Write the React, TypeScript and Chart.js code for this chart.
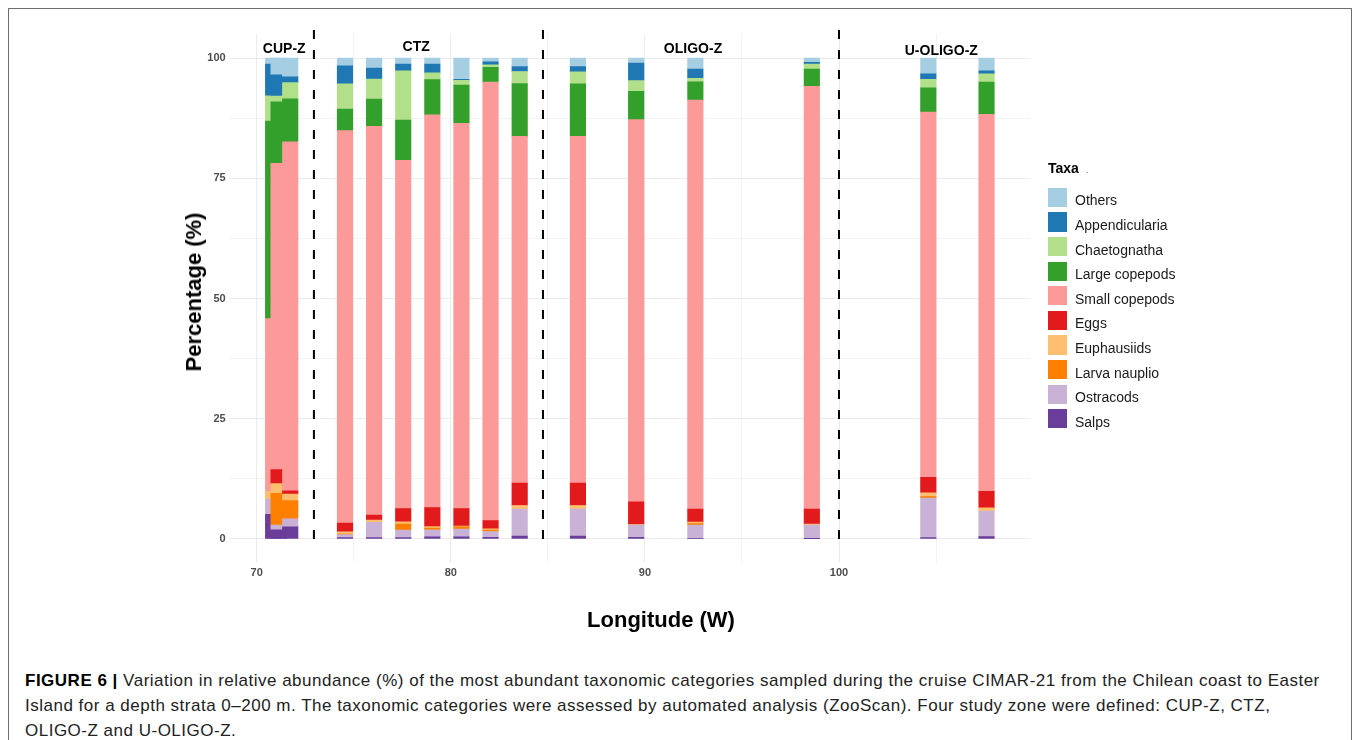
import React, { useEffect, useRef } from 'react';
import { Chart, registerables } from 'chart.js';

Chart.register(...registerables);

// ---------- data ----------
const taxa = [
  'Salps',
  'Ostracods',
  'Larva nauplio',
  'Euphausiids',
  'Eggs',
  'Small copepods',
  'Large copepods',
  'Chaetognatha',
  'Appendicularia',
  'Others',
];
const taxaColors = [
  '#6A3D9A',
  '#CAB2D6',
  '#FF7F00',
  '#FDBF6F',
  '#E31A1C',
  '#FB9A99',
  '#33A02C',
  '#B2DF8A',
  '#1F78B4',
  '#A6CEE3',
];

// station longitudes (W)
const longitudes = [70.85, 71.13, 71.73, 74.55, 76.05, 77.55, 79.05, 80.55, 82.05, 83.55, 86.55, 89.55, 92.6, 98.6, 104.6, 107.6];

// relative abundance (%) per station
const salps = [5.1, 1.9, 2.5, 0.3, 0.3, 0.3, 0.45, 0.45, 0.35, 0.6, 0.6, 0.35, 0.1, 0.05, 0.3, 0.5];
const ostracods = [3.2, 1.0, 1.7, 0.6, 3.15, 1.55, 1.45, 1.6, 1.2, 5.6, 5.6, 2.55, 2.8, 2.85, 8.2, 5.3];
const larvaNauplio = [0, 6.6, 3.8, 0.1, 0, 1.25, 0.35, 0.45, 0.3, 0, 0, 0, 0.3, 0, 0.3, 0];
const euphausiids = [1.6, 2.0, 1.35, 0.5, 0.5, 0.45, 0.3, 0.2, 0.25, 0.75, 0.75, 0.1, 0.3, 0.2, 0.8, 0.65];
const eggs = [0, 2.9, 0.65, 1.8, 1.0, 2.75, 3.95, 3.6, 1.7, 4.65, 4.65, 4.7, 2.7, 3.1, 3.2, 3.45];
const smallCopepods = [35.9, 63.7, 72.6, 81.6, 80.85, 72.45, 81.7, 80.15, 91.2, 72.1, 72.1, 79.5, 85.05, 87.9, 75.95, 78.4];
const largeCopepods = [41.1, 12.8, 8.9, 4.5, 5.65, 8.35, 7.3, 7.95, 3.05, 11.0, 10.95, 5.9, 3.8, 3.6, 5.05, 6.7];
const chaetognatha = [5.25, 1.2, 3.4, 5.25, 4.2, 10.25, 1.4, 0.95, 0.55, 2.5, 2.5, 2.2, 0.75, 1.05, 1.8, 1.7];
const appendicularia = [6.6, 4.4, 1.2, 3.75, 2.25, 1.4, 1.85, 0.25, 0.6, 1.05, 1.05, 3.65, 1.9, 0.35, 1.1, 0.65];
const others = [1.25, 3.5, 3.9, 1.6, 2.1, 1.25, 1.25, 4.4, 0.8, 1.75, 1.8, 1.05, 2.3, 0.9, 3.3, 2.65];

const series = [salps, ostracods, larvaNauplio, euphausiids, eggs, smallCopepods, largeCopepods, chaetognatha, appendicularia, others];

// zones
const zoneNames = ['CUP-Z', 'CTZ', 'OLIGO-Z', 'U-OLIGO-Z'];
const zoneLabelX = [71.42, 78.22, 92.48, 105.27];
const zoneLabelY = [101.9, 102.35, 101.9, 101.5];
const zoneBoundaries = [72.95, 84.75, 100];
const boundaryTop = 107;

// axes
const xMin = 68.56;
const xMax = 109.86;
const yMin = -5;
const yMax = 105;

const FONT = "'Liberation Sans', Arial, Helvetica, sans-serif";

function buildBarDatasets() {
  // higher longitude first so that it is drawn on top of its neighbour
  const order = longitudes.map((_, i) => i).sort((a, b) => longitudes[b] - longitudes[a]);
  const out: any[] = [];
  for (const s of order) {
    let cum = 0;
    series.forEach((vals, t) => {
      const lo = cum;
      cum += vals[s];
      if (vals[s] <= 0) return;
      out.push({
        type: 'bar',
        label: taxa[t],
        data: [{ x: longitudes[s], y: [lo, cum] }],
        backgroundColor: taxaColors[t],
        borderWidth: 0,
        grouped: false,
        barThickness: 15.5,
        maxBarThickness: 15.5,
      });
    });
  }
  return out;
}

function buildLineDatasets() {
  return zoneBoundaries.map((b) => ({
    type: 'line',
    label: 'boundary',
    data: [
      { x: b, y: 0 },
      { x: b, y: boundaryTop },
    ],
    borderColor: '#000',
    borderWidth: 2,
    borderDash: [9, 11],
    borderCapStyle: 'butt',
    pointRadius: 0,
    fill: false,
    tension: 0,
    clip: false,
  }));
}

const zoneLabelPlugin = {
  id: 'zoneLabels',
  afterDatasetsDraw(chart: any) {
    const { ctx, scales } = chart;
    const x = scales.x;
    const y = scales.y;
    ctx.save();
    ctx.font = `bold 14px ${FONT}`;
    ctx.fillStyle = '#000';
    ctx.textAlign = 'center';
    ctx.textBaseline = 'middle';
    zoneNames.forEach((n, i) => {
      ctx.fillText(n, x.getPixelForValue(zoneLabelX[i]), y.getPixelForValue(zoneLabelY[i]));
    });
    ctx.restore();
  },
};

const gridWidth = (major: number) => (c: any) =>
  c.tick && Math.abs(c.tick.value % major) < 1e-6 ? 1 : 0.6;

export default function App() {
  const ref = useRef<HTMLCanvasElement>(null);

  useEffect(() => {
    if (!ref.current) return;
    const chart = new Chart(ref.current, {
      type: 'bar',
      data: { datasets: [...buildLineDatasets(), ...buildBarDatasets()] as any },
      options: {
        animation: false,
        responsive: false,
        devicePixelRatio: 1,
        layout: { padding: { left: 0, top: 34, right: 1358 - 1030.4, bottom: 57 } },
        plugins: {
          legend: { display: false },
          tooltip: { enabled: false },
          title: { display: false },
        },
        scales: {
          x: {
            type: 'linear',
            min: xMin,
            max: xMax,
            offset: false,
            grid: { offset: false, color: '#ebebeb', drawTicks: false, lineWidth: gridWidth(10) as any },
            border: { display: false },
            ticks: {
              stepSize: 5,
              includeBounds: false,
              autoSkip: false,
              maxRotation: 0,
              padding: 3,
              color: '#4d4d4d',
              font: { family: FONT, size: 11, weight: 'bold' },
              callback: (v: any) => (Math.abs(Number(v) % 10) < 1e-6 ? String(v) : ''),
            },
            afterFit: (s: any) => {
              s.height = 30;
            },
          } as any,
          y: {
            type: 'linear',
            min: yMin,
            max: yMax,
            grid: { color: '#ebebeb', drawTicks: false, lineWidth: gridWidth(25) as any },
            border: { display: false },
            ticks: {
              stepSize: 12.5,
              includeBounds: false,
              autoSkip: false,
              padding: 3,
              color: '#4d4d4d',
              font: { family: FONT, size: 11, weight: 'bold' },
              callback: (v: any) => (Math.abs(Number(v) % 25) < 1e-6 ? String(v) : ''),
            },
            afterFit: (s: any) => {
              s.width = 228.7;
            },
          } as any,
        },
      },
      plugins: [zoneLabelPlugin],
    });
    return () => chart.destroy();
  }, []);

  const legendTaxa = taxa.map((t, i) => ({ t, c: taxaColors[i] })).reverse();

  return (
    <div style={{ position: 'absolute', left: 0, top: 0, width: 1358, height: 740, overflow: 'hidden', background: '#fff', fontFamily: FONT }}>
      <div style={{ position: 'absolute', left: 8, top: 8, width: 1344, height: 800, border: '1px solid #6e6e6e', boxSizing: 'border-box' }} />
      <canvas ref={ref} width={1358} height={650} style={{ position: 'absolute', left: 0, top: 0, width: 1358, height: 650 }} />
      {/* y title */}
      <div
        style={{
          position: 'absolute',
          left: 194,
          top: 292,
          transform: 'translate(-50%, -50%) rotate(-90deg)',
          fontSize: 22,
          fontWeight: 'bold',
          whiteSpace: 'nowrap',
          color: '#000',
        }}
      >
        Percentage (%)
      </div>
      {/* x title */}
      <div
        style={{
          position: 'absolute',
          left: 661,
          top: 620,
          transform: 'translate(-50%, -50%)',
          fontSize: 22,
          fontWeight: 'bold',
          whiteSpace: 'nowrap',
          color: '#000',
        }}
      >
        Longitude (W)
      </div>
      {/* legend */}
      <div style={{ position: 'absolute', left: 1048, top: 160, fontSize: 14, lineHeight: '16px', fontWeight: 'bold', color: '#000', whiteSpace: 'nowrap' }}>
        Taxa<span style={{ fontWeight: 'normal', fontSize: 9, color: '#666', marginLeft: 7 }}>.</span>
      </div>
      {legendTaxa.map((d, i) => (
        <div key={d.t}>
          <div style={{ position: 'absolute', left: 1048, top: 187.7 + i * 24.6, width: 18.5, height: 19.3, background: d.c }} />
          <div
            style={{
              position: 'absolute',
              left: 1075,
              top: 187.7 + i * 24.6 + 9.6 + 3 - 8,
              fontSize: 14,
              lineHeight: '16px',
              color: '#1a1a1a',
              whiteSpace: 'nowrap',
            }}
          >
            {d.t}
          </div>
        </div>
      ))}
      {/* caption */}
      <div style={{ position: 'absolute', left: 25, top: 667.5, fontSize: 17, letterSpacing: '0.5px', lineHeight: '25px', color: '#222', whiteSpace: 'nowrap' }}>
        <b style={{ color: '#000' }}>FIGURE 6 |</b> Variation in relative abundance (%) of the most abundant taxonomic categories sampled during the cruise CIMAR-21 from the Chilean coast to Easter
        <br />
        Island for a depth strata 0–200 m. The taxonomic categories were assessed by automated analysis (ZooScan). Four study zone were defined: CUP-Z, CTZ,
        <br />
        OLIGO-Z and U-OLIGO-Z.
      </div>
    </div>
  );
}
